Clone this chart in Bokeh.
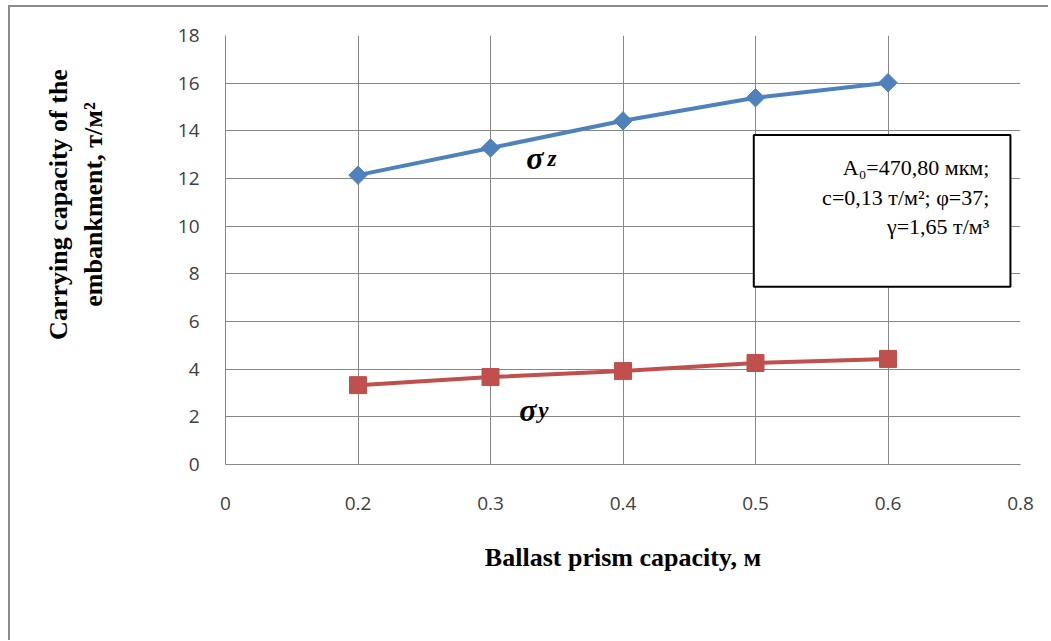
import numpy as np
from bokeh.plotting import figure
from bokeh.models import Label, BoxAnnotation, FixedTicker, Range1d, LinearAxis
from bokeh.embed import file_html
from bokeh.resources import INLINE

# ---- data ----
x_tick_labels = ["0", "0.2", "0.3", "0.4", "0.5", "0.6", "0.8"]
ballast = ["0.2", "0.3", "0.4", "0.5", "0.6"]
sigma_z = [12.14, 13.28, 14.42, 15.39, 16.02]
sigma_y = [3.33, 3.67, 3.92, 4.26, 4.43]
y_ticks = list(range(0, 20, 2))
box_lines = ["A\u2080=470,80 мкм;", "c=0,13 т/м\u00b2; φ=37;", "γ=1,65 т/м\u00b3"]
y_title = ["Carrying capacity of the", "embankment, т/м\u00b2"]

xi = [x_tick_labels.index(b) for b in ballast]

GRID = "#878787"
BLUE = "#4F81BD"
RED = "#C0504D"
PAD = "\u00a0" * 14  # shifts the rotated title upward, as in the reference

W, H = 1040, 635
p = figure(width=W, height=H, output_backend="svg", toolbar_location=None,
           x_range=Range1d(0, len(x_tick_labels) - 1), y_range=Range1d(0, 18),
           min_border_left=215, min_border_right=30, min_border_top=28, min_border_bottom=178)
p.styles = {"margin": "5px 0 0 8px", "border-top": "2px solid #8c8c8c",
            "border-left": "2.5px solid #8c8c8c", "box-sizing": "border-box"}
p.outline_line_color = None
p.background_fill_color = "white"

p.xaxis.ticker = FixedTicker(ticks=list(range(len(x_tick_labels))))
p.xaxis.major_label_overrides = {i: t for i, t in enumerate(x_tick_labels)}
p.yaxis.ticker = FixedTicker(ticks=y_ticks)

for ax in (p.xaxis, p.yaxis):
    ax.axis_line_color = GRID
    ax.major_tick_line_color = None
    ax.minor_tick_line_color = None
    ax.major_label_text_font = "Open Sans"
    ax.major_label_text_font_size = "19px"
    ax.major_label_text_color = "#404040"
p.xaxis.major_label_standoff = 26
p.yaxis.major_label_standoff = 20

p.xaxis.axis_label = "Ballast prism capacity, м"
p.xaxis.axis_label_text_font = "Liberation Serif"
p.xaxis.axis_label_text_font_style = "bold"
p.xaxis.axis_label_text_font_size = "26px"
p.xaxis.axis_label_text_color = "black"
p.xaxis.axis_label_standoff = 30

# y title: two extra left axes, one per line (inner line first)
for txt, standoff in [(y_title[1], 67), (y_title[0], 3)]:
    ax = LinearAxis(ticker=FixedTicker(ticks=[]), axis_label=PAD + txt,
                    axis_line_color=None, major_tick_line_color=None,
                    minor_tick_line_color=None, major_label_text_font_size="0px",
                    major_label_standoff=0, major_tick_out=0, minor_tick_out=0,
                    axis_label_standoff=standoff,
                    axis_label_text_font="Liberation Serif",
                    axis_label_text_font_style="bold",
                    axis_label_text_font_size="26px",
                    axis_label_text_color="black")
    p.add_layout(ax, "left")

p.xgrid.grid_line_color = GRID
p.ygrid.grid_line_color = GRID
p.xgrid.ticker = FixedTicker(ticks=list(range(len(x_tick_labels))))
p.ygrid.ticker = FixedTicker(ticks=y_ticks)

# series
p.line(xi, sigma_z, line_color=BLUE, line_width=4)
p.scatter(xi, sigma_z, marker="square", angle=np.pi / 4, size=13,
          fill_color=BLUE, line_color=BLUE)
p.line(xi, sigma_y, line_color=RED, line_width=4)
p.scatter(xi, sigma_y, marker="square", size=17, fill_color=RED, line_color=RED)

# sigma labels
for (sx, sy, sub, subx) in [(2.27, 12.86, "z", 2.43), (2.217, 2.27, "y", 2.36)]:
    p.add_layout(Label(x=sx, y=sy, text="σ", text_font="Liberation Serif",
                       text_font_style="bold italic", text_font_size="32px",
                       text_baseline="alphabetic", text_color="black"))
    p.add_layout(Label(x=subx, y=sy, text=sub, text_font="Liberation Serif",
                       text_font_style="bold italic", text_font_size="23px",
                       text_baseline="alphabetic", text_color="black"))

# parameter box
p.add_layout(BoxAnnotation(left=3.987, right=5.924, top=13.83, bottom=7.46,
                           fill_color="white", fill_alpha=1.0,
                           line_color="black", line_alpha=1.0, line_width=2,
                           level="annotation"))
for yy, txt in zip([12.48, 11.22, 10.0], box_lines):
    p.add_layout(Label(x=5.765, y=yy, text=txt, text_align="right",
                       text_baseline="alphabetic", text_font="Liberation Serif",
                       text_font_size="22px", text_color="black"))

open("out.html", "w").write(file_html(p, INLINE))
